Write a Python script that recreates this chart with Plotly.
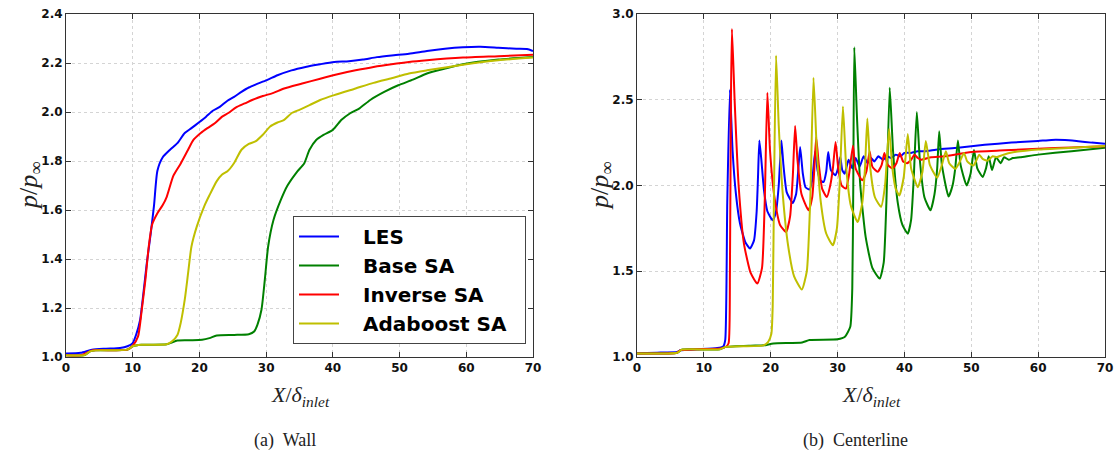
import plotly.graph_objects as go

# ---------------- Wall (left) data ----------------
les_wall_x = [0, 2.2, 3.9, 6, 8.1, 9.2, 10, 10.5, 11.1, 11.6, 12.1, 12.7, 13.2, 13.7, 14.5, 15.6, 16.7, 17.8, 18.8,
              19.9, 21, 22, 23.1, 24.2, 25.2, 26.3, 27.4, 28.4, 30.1, 31.7, 33.8, 35.9, 38.1, 40.2, 42.4, 44.5,
              46.6, 48.8, 51.4, 54.1, 56.8, 59.5, 62.1, 64.8, 67.5, 69.1, 70]
les_wall_y = [1.014, 1.017, 1.03, 1.034, 1.037, 1.044, 1.057, 1.09, 1.15, 1.26, 1.38, 1.505, 1.62, 1.76, 1.815,
              1.846, 1.873, 1.914, 1.934, 1.957, 1.981, 2.005, 2.022, 2.046, 2.062, 2.082, 2.1, 2.112, 2.13, 2.15,
              2.17, 2.184, 2.195, 2.204, 2.207, 2.214, 2.224, 2.231, 2.238, 2.249, 2.258, 2.264, 2.266, 2.262,
              2.258, 2.257, 2.249]

base_wall_x = [0, 2.8, 3.6, 4.4, 9.2, 10, 11.3, 15.1, 16.7, 18.8, 20.4, 21.5, 22.6, 25.2, 27.4, 28.2, 28.7, 29.3,
               29.8, 30.3, 31.1, 32.2, 33.2, 34.6, 35.7, 36.5, 37.5, 38.6, 40, 41.3, 42.6, 44, 45.6, 47.7, 49.8,
               52, 54.1, 56.8, 59.5, 64.8, 70]
base_wall_y = [1.007, 1.008, 1.023, 1.027, 1.03, 1.044, 1.05, 1.052, 1.067, 1.068, 1.07, 1.077, 1.088, 1.09,
               1.093, 1.104, 1.132, 1.193, 1.315, 1.451, 1.559, 1.641, 1.70, 1.755, 1.79, 1.846, 1.886, 1.907,
               1.927, 1.968, 1.995, 2.015, 2.049, 2.082, 2.109, 2.132, 2.157, 2.177, 2.195, 2.214, 2.224]

inv_wall_x = [0, 2.2, 3.0, 3.9, 9.2, 10, 10.8, 11.3, 11.9, 12.4, 12.9, 13.7, 14.5, 15.1, 16.1, 17.2, 18.3, 19.1,
              20.2, 21.2, 22.3, 23.4, 24.4, 25.5, 26.8, 27.9, 29.5, 31.1, 32.7, 35.4, 38.1, 40.7, 43.4, 46.1,
              48.8, 51.4, 54.1, 59.5, 64.8, 70]
inv_wall_y = [1.007, 1.007, 1.016, 1.027, 1.03, 1.046, 1.084, 1.18, 1.315, 1.45, 1.54, 1.587, 1.62, 1.654, 1.74,
              1.79, 1.846, 1.886, 1.914, 1.934, 1.954, 1.981, 1.997, 2.019, 2.035, 2.049, 2.065, 2.078, 2.096,
              2.116, 2.136, 2.154, 2.17, 2.184, 2.195, 2.204, 2.211, 2.222, 2.228, 2.234]

ada_wall_x = [0, 2.8, 3.6, 4.4, 9.2, 10, 11.3, 15.1, 15.9, 16.7, 17.2, 17.8, 18.3, 18.8, 19.6, 20.7, 21.5, 22.6,
              23.4, 24.2, 25.2, 26.3, 27.4, 28.4, 29.5, 30.6, 31.7, 32.7, 33.8, 34.9, 36.5, 38.1, 40.2, 43.4,
              46.1, 48.8, 51.4, 54.1, 59.5, 64.8, 70]
ada_wall_y = [1.007, 1.008, 1.023, 1.027, 1.03, 1.044, 1.05, 1.052, 1.064, 1.09, 1.14, 1.234, 1.342, 1.45, 1.532,
              1.614, 1.66, 1.718, 1.745, 1.758, 1.792, 1.846, 1.87, 1.88, 1.907, 1.941, 1.957, 1.968, 1.995,
              2.008, 2.028, 2.049, 2.069, 2.096, 2.119, 2.138, 2.157, 2.17, 2.193, 2.211, 2.222]

# ---------------- Centerline (right) data ----------------
les_cl_x = [0, 3, 6, 6.5, 9, 12, 12.9, 13.2, 13.5, 13.9, 14.3, 14.8, 15.4, 16.2, 16.9, 17.5, 17.9, 18.1, 18.3,
            18.6, 19.0, 19.5, 20.3, 20.8, 21.2, 21.6, 21.9, 22.4, 23.3, 23.8, 24.1, 24.4, 24.8, 25.2, 25.8, 26.2,
            26.65, 27.0, 27.4, 27.9, 28.3, 28.6, 29.0, 29.65, 30.0, 30.4, 30.7, 31.05, 31.3, 31.65, 32.2, 32.7,
            33.3, 33.9, 34.5, 35.0, 35.5, 36.1, 36.8, 37.4, 38.0, 38.7, 39.4, 40, 41, 42, 43, 45, 48, 52, 56, 60,
            62, 64, 66, 68, 70]
les_cl_y = [1.022, 1.025, 1.03, 1.039, 1.045, 1.052, 1.062, 1.1, 1.9, 2.558, 2.2, 1.95, 1.78, 1.67, 1.632, 1.68,
            1.85, 2.05, 2.263, 2.15, 1.97, 1.85, 1.797, 1.85, 2.0, 2.263, 2.12, 1.96, 1.898, 1.95, 2.08, 2.224,
            2.07, 1.99, 1.976, 2.03, 2.20, 2.09, 2.03, 2.02, 2.08, 2.195, 2.09, 2.06, 2.09, 2.166, 2.09, 2.069,
            2.1, 2.15, 2.10, 2.16, 2.11, 2.17, 2.13, 2.16, 2.14, 2.17, 2.15, 2.17, 2.16, 2.18, 2.17, 2.19, 2.19,
            2.20, 2.20, 2.21, 2.22, 2.237, 2.25, 2.26, 2.266, 2.265, 2.258, 2.25, 2.244]

base_cl_x = [0, 6, 6.7, 12.4, 13.2, 17, 19, 20.4, 24.7, 25.8, 30.0, 31.1, 31.9, 32.2, 32.35, 32.5, 32.9, 33.4,
             34.2, 35.2, 36.3, 36.9, 37.3, 37.8, 38.3, 39.0, 39.7, 40.5, 41.0, 41.4, 41.85, 42.3, 43.0, 43.9,
             44.5, 44.9, 45.2, 45.6, 46.6, 47.2, 47.6, 48.0, 48.4, 49.3, 49.9, 50.4, 50.9, 51.7, 52.2, 52.6,
             53.1, 53.7, 54.4, 54.9, 55.6, 56.2, 57.3, 60, 65, 70]
base_cl_y = [1.02, 1.025, 1.043, 1.045, 1.058, 1.066, 1.068, 1.079, 1.085, 1.099, 1.103, 1.118, 1.176, 1.4, 2.0,
             2.806, 2.4, 2.0, 1.70, 1.52, 1.457, 1.55, 1.9, 2.57, 2.2, 1.9, 1.77, 1.719, 1.8, 2.05, 2.428, 2.15,
             1.93, 1.855, 1.95, 2.1, 2.316, 2.12, 1.936, 2.0, 2.1, 2.262, 2.12, 2.0, 2.07, 2.207, 2.1, 2.05, 2.1,
             2.17, 2.09, 2.165, 2.13, 2.165, 2.15, 2.16, 2.165, 2.18, 2.20, 2.22]

inv_cl_x = [0, 6, 6.5, 9, 12.5, 13.3, 13.7, 13.9, 14.05, 14.2, 14.6, 15.2, 16.0, 17.0, 18.0, 18.7, 19.1, 19.5,
            19.9, 20.6, 21.4, 22.3, 22.9, 23.3, 23.65, 24.0, 24.6, 25.65, 26.2, 26.5, 26.8, 27.2, 27.7, 28.4,
            28.9, 29.3, 29.7, 30.1, 30.6, 31.25, 31.7, 32.3, 32.7, 33.7, 34.3, 34.8, 35.2, 36.0, 36.6, 37.0,
            37.5, 38.2, 38.8, 39.3, 39.8, 40.4, 41.0, 41.5, 42.0, 42.5, 44, 46, 50, 55, 60, 65, 70]
inv_cl_y = [1.02, 1.025, 1.04, 1.045, 1.05, 1.06, 1.08, 1.5, 2.5, 2.913, 2.5, 2.0, 1.66, 1.49, 1.428, 1.52, 1.9,
            2.541, 2.2, 1.92, 1.77, 1.729, 1.82, 2.05, 2.347, 2.15, 1.95, 1.855, 1.93, 2.08, 2.283, 2.12, 1.98,
            1.933, 2.0, 2.1, 2.253, 2.1, 2.0, 1.982, 2.06, 2.232, 2.1, 2.03, 2.08, 2.20, 2.11, 2.08, 2.12, 2.19,
            2.12, 2.10, 2.13, 2.19, 2.14, 2.13, 2.15, 2.18, 2.16, 2.15, 2.165, 2.17, 2.196, 2.205, 2.215, 2.222,
            2.229]

ada_cl_x = [0, 6, 6.7, 12.4, 13.2, 18.9, 19.6, 20.1, 20.3, 20.5, 20.8, 21.2, 21.8, 22.6, 23.5, 24.65, 25.4, 25.9,
            26.4, 26.9, 27.5, 28.3, 29.3, 29.9, 30.3, 30.8, 31.3, 32.0, 33.0, 33.7, 34.1, 34.45, 34.9, 35.6, 36.5,
            37.1, 37.7, 38.2, 38.7, 39.25, 39.9, 40.5, 41.0, 42.0, 42.7, 43.2, 43.8, 44.9, 45.6, 46.2, 46.7,
            47.6, 48.3, 48.9, 49.4, 50.3, 50.8, 51.2, 51.7, 52.4, 53.2, 53.8, 54.5, 55.7, 60, 65, 70]
ada_cl_y = [1.02, 1.025, 1.043, 1.045, 1.058, 1.068, 1.087, 1.136, 1.3, 2.0, 2.758, 2.35, 1.95, 1.65, 1.47, 1.393,
            1.5, 1.9, 2.628, 2.2, 1.9, 1.72, 1.651, 1.75, 2.0, 2.461, 2.1, 1.88, 1.787, 1.9, 2.1, 2.39, 2.1, 1.93,
            1.876, 2.0, 2.33, 2.1, 1.98, 1.942, 2.05, 2.30, 2.1, 1.99, 2.08, 2.26, 2.12, 2.045, 2.12, 2.20, 2.13,
            2.097, 2.14, 2.19, 2.14, 2.116, 2.15, 2.18, 2.155, 2.145, 2.17, 2.165, 2.175, 2.19, 2.21, 2.22, 2.23]

names = ["LES", "Base SA", "Inverse SA", "Adaboost SA"]
colors = ["#0000ff", "#008000", "#ff0000", "#bfbf00"]

wall = [(les_wall_x, les_wall_y), (base_wall_x, base_wall_y), (inv_wall_x, inv_wall_y), (ada_wall_x, ada_wall_y)]
cl = [(les_cl_x, les_cl_y), (base_cl_x, base_cl_y), (inv_cl_x, inv_cl_y), (ada_cl_x, ada_cl_y)]

x_ticks = [0, 10, 20, 30, 40, 50, 60, 70]
y_ticks_wall = [1.0, 1.2, 1.4, 1.6, 1.8, 2.0, 2.2, 2.4]
y_ticks_cl = [1.0, 1.5, 2.0, 2.5, 3.0]

NB = "\u00a0"
fig = go.Figure()
for (x, y), n, c in zip(wall, names, colors):
    fig.add_trace(go.Scatter(x=x, y=y, mode="lines", name=NB * 3 + "<b>" + n + "</b>" + NB * 2,
                             line=dict(color=c, width=2, shape="spline", smoothing=0.6),
                             xaxis="x", yaxis="y", showlegend=True))
for (x, y), n, c in zip(cl, names, colors):
    fig.add_trace(go.Scatter(x=x, y=y, mode="lines", name=n,
                             line=dict(color=c, width=2, shape="spline", smoothing=0.5),
                             xaxis="x2", yaxis="y2", showlegend=False))

W, H = 1119, 460
def px(v): return v / W
def py(v): return 1 - v / H

tickfont = dict(family="DejaVu Sans", size=12, color="#111111")
axis_common = dict(showline=True, linecolor="#333333", linewidth=1, mirror="ticks",
                   ticks="inside", ticklen=5, tickcolor="#333333", tickfont=tickfont,
                   showgrid=True, gridcolor="#d4d4d4", griddash="dot", gridwidth=1, zeroline=False,
                   automargin=False, ticklabeloverflow="allow")

fig.update_layout(
    template="none",
    width=W, height=H, paper_bgcolor="white", plot_bgcolor="white",
    margin=dict(l=0, r=0, t=0, b=0, pad=0), autosize=False,
    xaxis=dict(domain=[px(66), px(533)], range=[0, 70], tickvals=x_ticks,
               ticktext=["<b>%d</b>" % v for v in x_ticks], anchor="y", **axis_common),
    yaxis=dict(domain=[py(357), py(14)], range=[1.0, 2.4], tickvals=y_ticks_wall,
               ticktext=["<b>%.1f</b>" % v for v in y_ticks_wall], anchor="x", **axis_common),
    xaxis2=dict(domain=[px(637), px(1105)], range=[0, 70], tickvals=x_ticks,
                ticktext=["<b>%d</b>" % v for v in x_ticks], anchor="y2", **axis_common),
    yaxis2=dict(domain=[py(357), py(14)], range=[1.0, 3.0], tickvals=y_ticks_cl,
                ticktext=["<b>%.1f</b>" % v for v in y_ticks_cl], anchor="x2", **axis_common),
    legend=dict(x=px(293), y=py(216), xanchor="left", yanchor="top",
                bgcolor="white", bordercolor="#444444", borderwidth=1,
                font=dict(family="DejaVu Sans", size=20, color="black"),
                itemwidth=40, tracegroupgap=0),
    showlegend=True,
)

serif = "Liberation Serif"
ann = []
for cx in (300, 871):
    ann.append(dict(x=px(cx), y=py(380), xref="paper", yref="paper", showarrow=False,
                    xanchor="center", yanchor="top",
                    text="<i>X</i>/<i>δ</i><sub><i>inlet</i></sub>",
                    font=dict(family=serif, size=22, color="#222222")))
for cx in (30, 601):
    ann.append(dict(x=px(cx), y=py(186), xref="paper", yref="paper", showarrow=False, textangle=-90,
                    xanchor="center", yanchor="middle",
                    text="<i>p</i>/<i>p</i><sub>∞</sub>",
                    font=dict(family=serif, size=26, color="#222222")))
ann.append(dict(x=px(285), y=py(440), xref="paper", yref="paper", showarrow=False,
                xanchor="center", yanchor="middle",
                text="(a)  Wall", font=dict(family=serif, size=18, color="#222222")))
ann.append(dict(x=px(855), y=py(440), xref="paper", yref="paper", showarrow=False,
                xanchor="center", yanchor="middle",
                text="(b)  Centerline", font=dict(family=serif, size=18, color="#222222")))
fig.update_layout(annotations=ann)

# remove the default 8 px page margin so the figure fills the window exactly
fig.write_html("out.html", config={"displayModeBar": False},
               post_script="document.body.style.margin='0px';document.body.style.overflow='hidden';")
